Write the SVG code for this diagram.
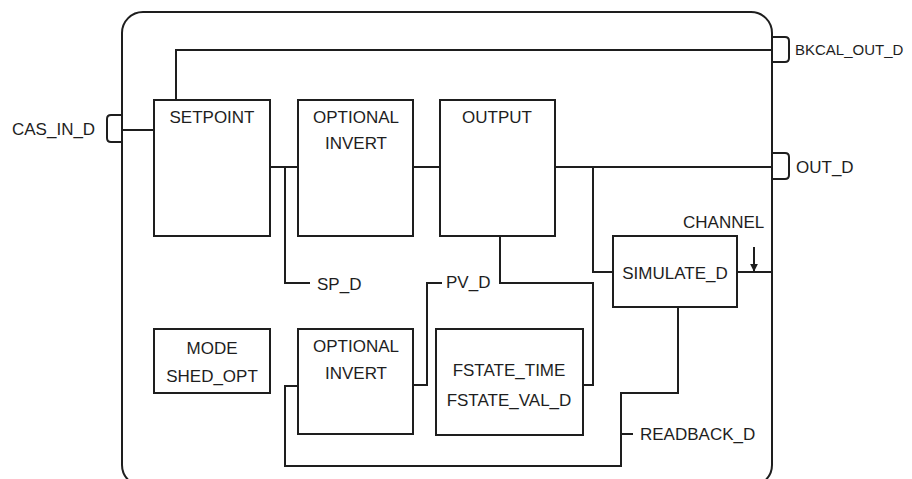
<svg xmlns="http://www.w3.org/2000/svg" width="912" height="479" viewBox="0 0 912 479">
<style>
.ln{fill:none;stroke:#1e1e1e;stroke-width:2}
.bx{fill:#fff;stroke:#1e1e1e;stroke-width:2}
text{font-family:"Liberation Sans",Arial,sans-serif;font-size:17px;fill:#1e1e1e}
.c{text-anchor:middle}
</style>
<defs>
<marker id="ah" viewBox="0 0 10 10" refX="9" refY="5" markerWidth="8" markerHeight="8" markerUnits="userSpaceOnUse" orient="auto">
<path d="M0,0 L10,5 L0,10 z" fill="#1e1e1e"/>
</marker>
</defs>
<rect width="912" height="479" fill="#fff"/>
<g id="frame">
<rect class="ln" x="122" y="12" width="650" height="474" rx="21" ry="21"/>
</g>
<g id="connectors">
<path class="ln" d="M122,130 H154"/>
<path class="ln" d="M176,100 V50 H772"/>
<path class="ln" d="M270,167 H298"/>
<path class="ln" d="M285,167 V283 H310"/>
<path class="ln" d="M413,167 H440"/>
<path class="ln" d="M555,167 H772"/>
<path class="ln" d="M593,167 V272 H613"/>
<path class="ln" d="M737,272 H772"/>
<path class="ln" d="M754,247 V271" marker-end="url(#ah)"/>
<path class="ln" d="M500,236 V283 H593 V385 H583"/>
<path class="ln" d="M442,283 H427 V385 H413"/>
<path class="ln" d="M678,307 V393 H621 V466 H285 V386 H298"/>
<path class="ln" d="M621,434 H633"/>
</g>
<g id="cas_in_d">
<path class="ln" d="M122,115 H111 Q107,115 107,119 V138 Q107,142 111,142 H122"/>
<text x="12" y="135">CAS_IN_D</text>
</g>
<g id="bkcal_out_d">
<path class="ln" d="M772,37 H785 Q789,37 789,41 V58 Q789,62 785,62 H772"/>
<text x="795" y="55" style="font-size:15px">BKCAL_OUT_D</text>
</g>
<g id="out_d">
<path class="ln" d="M772,153 H785 Q789,153 789,157 V175 Q789,179 785,179 H772"/>
<text x="796" y="173">OUT_D</text>
</g>
<g id="setpoint">
<rect class="bx" x="154" y="100" width="116" height="136"/>
<text class="c" x="212" y="123">SETPOINT</text>
</g>
<g id="optional_invert_top">
<rect class="bx" x="298" y="100" width="115" height="136"/>
<text class="c" x="356" y="123">OPTIONAL</text>
<text class="c" x="356" y="149">INVERT</text>
</g>
<g id="output">
<rect class="bx" x="440" y="100" width="115" height="136"/>
<text class="c" x="497" y="123">OUTPUT</text>
</g>
<g id="simulate_d">
<rect class="bx" x="613" y="236" width="124" height="71"/>
<text class="c" x="675" y="279">SIMULATE_D</text>
</g>
<g id="mode_shed_opt">
<rect class="bx" x="154" y="329" width="116" height="64"/>
<text class="c" x="212" y="354">MODE</text>
<text class="c" x="212" y="382">SHED_OPT</text>
</g>
<g id="optional_invert_bottom">
<rect class="bx" x="298" y="329" width="115" height="105"/>
<text class="c" x="356" y="352">OPTIONAL</text>
<text class="c" x="356" y="379">INVERT</text>
</g>
<g id="fstate">
<rect class="bx" x="436" y="329" width="147" height="106"/>
<text class="c" x="509" y="376">FSTATE_TIME</text>
<text class="c" x="509" y="406">FSTATE_VAL_D</text>
</g>
<g id="labels">
<text x="317" y="290">SP_D</text>
<text x="446" y="288">PV_D</text>
<text x="683" y="228">CHANNEL</text>
<text x="640" y="440">READBACK_D</text>
</g>
</svg>
